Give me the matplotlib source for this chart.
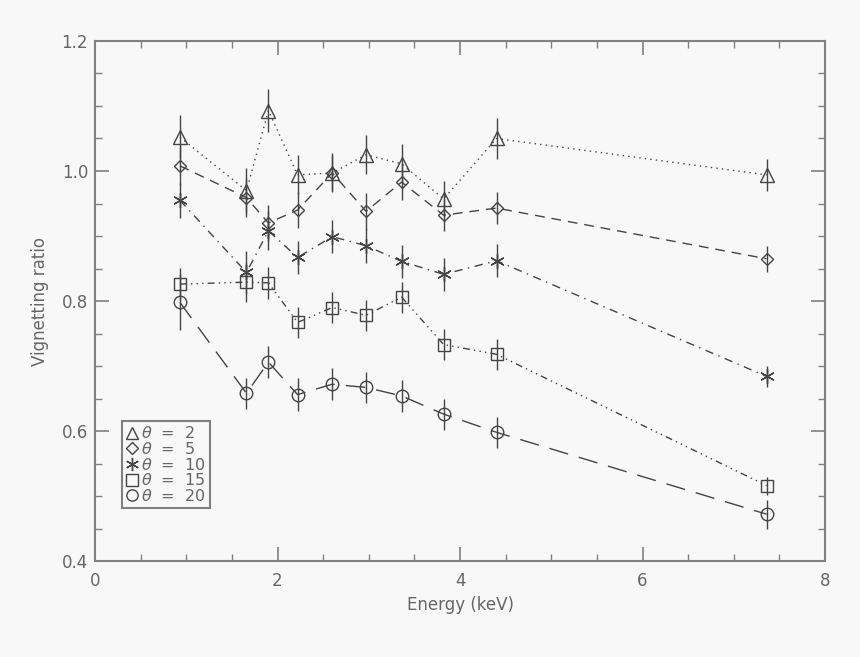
import matplotlib
matplotlib.use('Agg')
import matplotlib.pyplot as plt
from matplotlib.ticker import MultipleLocator
import numpy as np

# 能量点 (keV)
energy = [0.93, 1.66, 1.90, 2.22, 2.60, 2.97, 3.36, 3.82, 4.40, 7.36]

# 各离轴角的渐晕比
ratio_2 = [1.052, 0.970, 1.093, 0.994, 0.997, 1.025, 1.011, 0.957, 1.050, 0.994]
ratio_5 = [1.008, 0.959, 0.920, 0.940, 0.997, 0.938, 0.983, 0.932, 0.943, 0.865]
ratio_10 = [0.955, 0.844, 0.908, 0.867, 0.899, 0.885, 0.861, 0.841, 0.862, 0.684]
ratio_15 = [0.826, 0.829, 0.828, 0.767, 0.790, 0.778, 0.806, 0.733, 0.718, 0.516]
ratio_20 = [0.798, 0.658, 0.706, 0.656, 0.672, 0.667, 0.654, 0.626, 0.598, 0.472]

err_2 = [0.034, 0.035, 0.033, 0.030, 0.030, 0.030, 0.030, 0.028, 0.031, 0.024]
err_5 = [0.030, 0.030, 0.028, 0.028, 0.028, 0.028, 0.028, 0.025, 0.025, 0.020]
err_10 = [0.027, 0.033, 0.030, 0.025, 0.025, 0.027, 0.025, 0.025, 0.025, 0.016]
err_15 = [0.025, 0.030, 0.025, 0.024, 0.024, 0.024, 0.024, 0.024, 0.024, 0.014]
err_20 = [0.043, 0.024, 0.025, 0.025, 0.025, 0.024, 0.024, 0.024, 0.024, 0.022]

labels = ['2', '5', '10', '15', '20']
xticks = [0, 2, 4, 6, 8]
yticks = [0.4, 0.6, 0.8, 1.0, 1.2]

bg = '#f8f8f8'
axis_col = '#808080'
line_col = '#444444'
text_col = '#666666'

series = [
    (ratio_2, err_2, '^', (0, (1, 3))),
    (ratio_5, err_5, 'D', (0, (7, 5))),
    (ratio_10, err_10, (6, 2, 0), (0, (6, 4, 1, 4))),
    (ratio_15, err_15, 's', (0, (5, 3, 1, 3, 1, 3, 1, 3))),
    (ratio_20, err_20, 'o', (0, (14, 8))),
]
msizes = [9.5, 6.5, 10.5, 9, 9]

fig = plt.figure(figsize=(8.6, 6.57), dpi=100, facecolor=bg)
ax = fig.add_axes([0.1105, 0.1461, 0.8488, 0.7915])
ax.set_facecolor(bg)

handles = []
for (vals, errs, mk, ls), ms, lab in zip(series, msizes, labels):
    ax.errorbar(energy, vals, yerr=errs, fmt='none', ecolor=line_col,
                elinewidth=1.0, capsize=0)
    ax.plot(energy, vals, linestyle=ls, color=line_col, linewidth=1.0)
    h, = ax.plot(energy, vals, linestyle='none', marker=mk, markersize=ms,
                 markerfacecolor='none', markeredgecolor=line_col,
                 markeredgewidth=1.0)
    handles.append(h)

ax.set_xlim(0, 8)
ax.set_ylim(0.4, 1.2)
ax.set_xticks(xticks)
ax.set_xticklabels([str(v) for v in xticks])
ax.set_yticks(yticks)
ax.set_yticklabels(['%.1f' % v for v in yticks])
ax.xaxis.set_minor_locator(MultipleLocator(0.5))
ax.yaxis.set_minor_locator(MultipleLocator(0.05))
ax.tick_params(which='both', direction='in', top=True, right=True,
               color=axis_col, labelcolor=text_col, labelsize=12)
ax.tick_params(which='major', length=10, width=1.2)
ax.tick_params(which='minor', length=5, width=1.0)
ax.tick_params(axis='x', which='major', pad=8)
ax.tick_params(axis='y', which='major', pad=5)
for sp in ax.spines.values():
    sp.set_color(axis_col)
    sp.set_linewidth(1.5)

ax.set_xlabel('Energy (keV)', color=text_col, fontsize=12, labelpad=4)
ax.set_ylabel('Vignetting ratio', color=text_col, fontsize=12, labelpad=9)

leg = ax.legend(handles, [r'$\theta$  =  ' + s for s in labels],
                loc='lower left', bbox_to_anchor=(0.037, 0.102),
                fontsize=11.5, labelspacing=-0.02, handlelength=0.8,
                handletextpad=0.15, borderpad=0.25, borderaxespad=0,
                fancybox=False, framealpha=1, facecolor=bg,
                edgecolor=axis_col, markerscale=0.9)
leg.get_frame().set_linewidth(1.5)
for t in leg.get_texts():
    t.set_color(text_col)

fig.savefig('out.png', dpi=100, facecolor=bg)
